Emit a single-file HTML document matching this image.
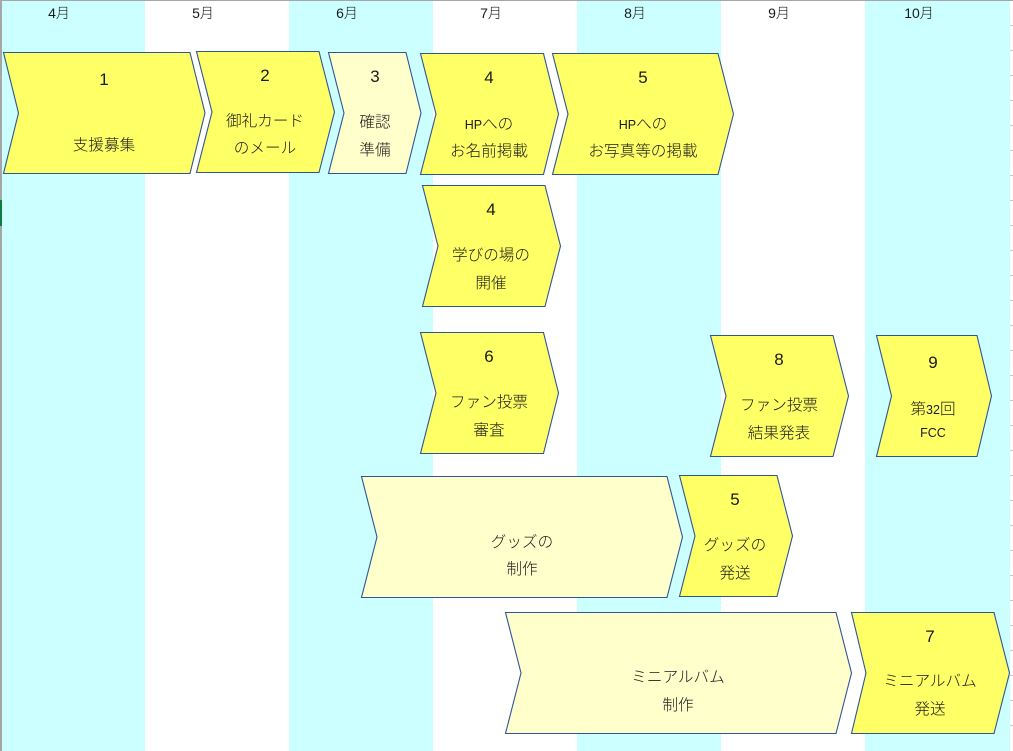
<!DOCTYPE html>
<html lang="ja">
<head>
<meta charset="utf-8">
<title>スケジュール</title>
<style>
html,body{margin:0;padding:0;background:#fff;width:1013px;height:751px;overflow:hidden}
svg{display:block}
text{font-family:"Liberation Sans","Noto Sans CJK JP",sans-serif;fill:#1a1a1a;text-anchor:middle;font-size:15.6px;font-weight:300}
.m{font-size:14px}
.n{font-size:17px}
.l{font-size:12.5px}
polygon{stroke:#2f5597;stroke-width:1.1}
.y{fill:#ffff66}
.p{fill:#ffffcc}
</style>
</head>
<body>
<svg width="1013" height="751" viewBox="0 0 1013 751" xmlns="http://www.w3.org/2000/svg">
<rect width="1013" height="751" fill="#fff"/>
<g fill="#ccffff">
<rect x="2" y="0" width="143" height="751"/>
<rect x="289" y="0" width="144" height="751"/>
<rect x="577" y="0" width="144" height="751"/>
<rect x="865" y="0" width="145" height="751"/>
</g>
<rect x="0" y="0" width="2" height="751" fill="#a6a6a6"/>
<rect x="0" y="0" width="1013" height="1" fill="#a6a6a6"/>
<rect x="0" y="200" width="2" height="26" fill="#107c41"/>
<g fill="#c8c8c8">
<rect x="1010" y="25" width="3" height="1"/><rect x="1010" y="50" width="3" height="1"/><rect x="1010" y="75" width="3" height="1"/><rect x="1010" y="100" width="3" height="1"/><rect x="1010" y="125" width="3" height="1"/><rect x="1010" y="150" width="3" height="1"/><rect x="1010" y="175" width="3" height="1"/><rect x="1010" y="200" width="3" height="1"/><rect x="1010" y="225" width="3" height="1"/><rect x="1010" y="250" width="3" height="1"/><rect x="1010" y="275" width="3" height="1"/><rect x="1010" y="300" width="3" height="1"/><rect x="1010" y="325" width="3" height="1"/><rect x="1010" y="350" width="3" height="1"/><rect x="1010" y="375" width="3" height="1"/><rect x="1010" y="400" width="3" height="1"/><rect x="1010" y="425" width="3" height="1"/><rect x="1010" y="450" width="3" height="1"/><rect x="1010" y="475" width="3" height="1"/><rect x="1010" y="500" width="3" height="1"/><rect x="1010" y="525" width="3" height="1"/><rect x="1010" y="550" width="3" height="1"/><rect x="1010" y="575" width="3" height="1"/><rect x="1010" y="600" width="3" height="1"/><rect x="1010" y="625" width="3" height="1"/><rect x="1010" y="650" width="3" height="1"/><rect x="1010" y="675" width="3" height="1"/><rect x="1010" y="700" width="3" height="1"/><rect x="1010" y="725" width="3" height="1"/>
</g>

<text class="m" x="59" y="18">4月</text>
<text class="m" x="203" y="18">5月</text>
<text class="m" x="347" y="18">6月</text>
<text class="m" x="491" y="18">7月</text>
<text class="m" x="635" y="18">8月</text>
<text class="m" x="779" y="18">9月</text>
<text class="m" x="919" y="18">10月</text>

<polygon class="y" points="3.5,52.5 190,52.5 205,113 190,173.5 3.5,173.5 18.5,113"/>
<polygon class="y" points="196.5,51.5 319,51.5 334.5,112 319,172.5 196.5,172.5 212,112"/>
<polygon class="p" points="328.5,52.5 406,52.5 421,113 406,173.5 328.5,173.5 344,113"/>
<polygon class="y" points="420.5,53.5 543.5,53.5 558.5,114 543.5,174.5 420.5,174.5 436,114"/>
<polygon class="y" points="552.5,53.5 718,53.5 733.5,114 718,174.5 552.5,174.5 568,114"/>
<polygon class="y" points="422.5,185.5 545,185.5 560.5,246 545,306.5 422.5,306.5 438,246"/>
<polygon class="y" points="420.5,332.5 543.5,332.5 558.5,393 543.5,453.5 420.5,453.5 436,393"/>
<polygon class="y" points="710.5,335.5 833,335.5 848.5,396 833,456.5 710.5,456.5 726,396"/>
<polygon class="y" points="876.5,335.5 977,335.5 991.5,396 977,456.5 876.5,456.5 891.5,396"/>
<polygon class="p" points="361.5,476.5 667,476.5 682.5,537 667,597.5 361.5,597.5 377,537"/>
<polygon class="y" points="679.5,475.5 777,475.5 792.5,536 777,596.5 679.5,596.5 695,536"/>
<polygon class="p" points="505.5,612.5 836,612.5 851.5,673 836,733.5 505.5,733.5 521,673"/>
<polygon class="y" points="851.5,612.5 994,612.5 1009.5,673 994,733.5 851.5,733.5 866,673"/>

<text class="n" x="104" y="85">1</text>
<text x="104" y="150">支援募集</text>
<text class="n" x="265" y="81">2</text>
<text x="265" y="126">御礼カード</text>
<text x="265" y="153">のメール</text>
<text class="n" x="375" y="82">3</text>
<text x="375" y="127">確認</text>
<text x="375" y="155">準備</text>
<text class="n" x="489" y="83">4</text>
<text x="489" y="129"><tspan class="l">HP</tspan>への</text>
<text x="489" y="156">お名前掲載</text>
<text class="n" x="643" y="83">5</text>
<text x="643" y="129"><tspan class="l">HP</tspan>への</text>
<text x="643" y="156">お写真等の掲載</text>
<text class="n" x="491" y="215">4</text>
<text x="491" y="260">学びの場の</text>
<text x="491" y="288">開催</text>
<text class="n" x="489" y="362">6</text>
<text x="489" y="407">ファン投票</text>
<text x="489" y="435">審査</text>
<text class="n" x="779" y="365">8</text>
<text x="779" y="410">ファン投票</text>
<text x="779" y="438">結果発表</text>
<text class="n" x="933" y="368">9</text>
<text x="933" y="414">第<tspan class="l">32</tspan>回</text>
<text class="l" x="933" y="437">FCC</text>
<text x="522" y="547">グッズの</text>
<text x="522" y="574">制作</text>
<text class="n" x="735" y="505">5</text>
<text x="735" y="550">グッズの</text>
<text x="735" y="578">発送</text>
<text x="678" y="682">ミニアルバム</text>
<text x="678" y="710">制作</text>
<text class="n" x="930" y="642">7</text>
<text x="930" y="686">ミニアルバム</text>
<text x="930" y="714">発送</text>
</svg>
</body>
</html>
